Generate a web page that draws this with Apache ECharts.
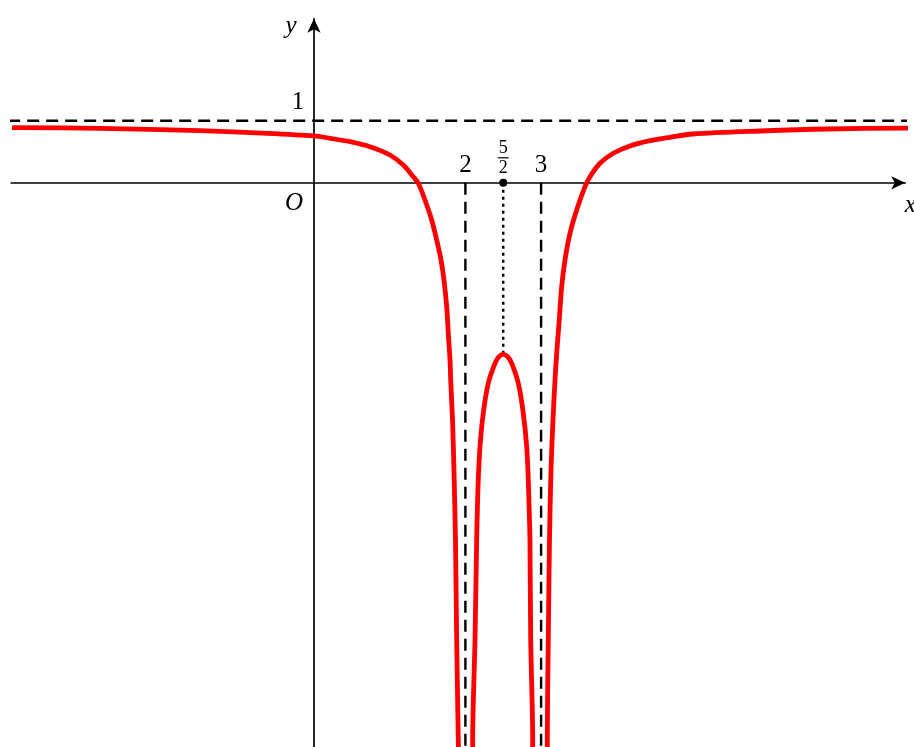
<!DOCTYPE html>
<html>
<head>
<meta charset="utf-8">
<script src="https://cdn.jsdelivr.net/npm/echarts@6/dist/echarts.min.js"></script>
<style>
  html, body { margin: 0; padding: 0; background: #ffffff; }
  #chart { width: 914px; height: 747px; }
</style>
</head>
<body>
<div id="chart"></div>
<script>
// Graph of y = f(x) with asymptotes x = 2, x = 3, y = 1 and a local maximum at x = 5/2.
const leftBranch = [
  [-3.989, 0.889], [-2.827, 0.879], [-1.506, 0.840], [-0.621, 0.798], [0, 0.755],
  [0.211, 0.718], [0.476, 0.663], [0.740, 0.582], [1.004, 0.448], [1.180, 0.287],
  [1.312, 0.098], [1.378, -0.008], [1.466, -0.277], [1.555, -0.600], [1.621, -0.923],
  [1.678, -1.245], [1.717, -1.568], [1.753, -1.998], [1.774, -2.427], [1.797, -2.858],
  [1.806, -3.181], [1.830, -3.826], [1.849, -4.632], [1.869, -5.761], [1.885, -7.374],
  [1.906, -8.987], [1.910, -9.310]
];
const middleBranch = [
  [2.096, -9.310], [2.096, -8.987], [2.127, -7.374], [2.149, -5.761], [2.157, -5.331],
  [2.170, -4.794], [2.193, -4.256], [2.236, -3.718], [2.302, -3.234], [2.391, -2.911],
  [2.444, -2.802], [2.5, -2.769], [2.556, -2.802],
  [2.612, -2.911], [2.699, -3.234], [2.765, -3.718], [2.810, -4.256], [2.831, -4.794],
  [2.844, -5.331], [2.853, -5.761], [2.863, -7.374], [2.889, -8.987], [2.889, -9.310]
];
const rightBranch = [
  [3.082, -9.310], [3.082, -8.987], [3.095, -7.374], [3.111, -5.761], [3.131, -4.632],
  [3.157, -3.826], [3.184, -3.181], [3.206, -2.750], [3.240, -2.213], [3.272, -1.676],
  [3.316, -1.245], [3.382, -0.815], [3.470, -0.439], [3.580, -0.063], [3.646, 0.098],
  [3.778, 0.315], [3.954, 0.476], [4.174, 0.594], [4.439, 0.679], [4.703, 0.734],
  [5.007, 0.787], [5.892, 0.835], [6.777, 0.868], [7.926, 0.884]
];
const horizontalAsymptote = 1;
const verticalAsymptotes = [2, 3];
const peak = [2.5, -2.769];
const xTickLabels = ['2', '3'];
const peakLabel = ['5', '2'];          // numerator, denominator of 5/2
const xRange = [-4, 7.81];
const yRange = [-9.1, 2.645];
const curveEnds = [-4.04, 7.95];
const asymptoteBottom = -9.4;

const serif = '"Liberation Serif", "DejaVu Serif", serif';
const chart = echarts.init(document.getElementById('chart'), null, { renderer: 'canvas' });

const redCurve = (data) => ({
  type: 'line', data, showSymbol: false, smooth: 0.3,
  clip: false, silent: true, z: 5,
  lineStyle: { color: '#ff0000', width: 4.8, cap: 'butt', join: 'round' }
});
const guide = (data, dash, width) => ({
  type: 'line', data, showSymbol: false, clip: false, silent: true, z: 3,
  lineStyle: { color: '#000000', width, type: dash }
});

const axisBase = {
  type: 'value', splitLine: { show: false }, axisTick: { show: false },
  axisLabel: { show: false },
  axisLine: {
    show: true, onZero: true, symbol: ['none', 'arrow'], symbolSize: [10, 14],
    lineStyle: { color: '#000000', width: 1.7 }
  }
};

chart.setOption({
  animation: false,
  backgroundColor: '#ffffff',
  grid: { left: 11.2, right: 8.8, top: 18.8, bottom: 0, containLabel: false },
  xAxis: Object.assign({}, axisBase, { min: xRange[0], max: xRange[1] }),
  yAxis: Object.assign({}, axisBase, { min: yRange[0], max: yRange[1] }),
  series: [
    guide(curveEnds.map(x => [x, horizontalAsymptote]), [12, 7], 2.4),
    ...verticalAsymptotes.map(a => guide([[a, 0], [a, asymptoteBottom]], [12, 7], 2.4)),
    guide([[peak[0], 0], peak], [3, 4], 2.4),
    redCurve(leftBranch),
    redCurve(middleBranch),
    redCurve(rightBranch),
    {
      type: 'scatter', data: [[peak[0], 0]], symbol: 'circle', symbolSize: 8,
      itemStyle: { color: '#000000', opacity: 1 }, silent: true, z: 6,
      label: {
        show: true, position: 'top', distance: 3, opacity: 1,
        formatter: '{n|' + peakLabel[0] + '}\n{bar|}\n{d|' + peakLabel[1] + '}',
        rich: {
          n: { fontFamily: serif, fontSize: 18, color: '#000', lineHeight: 16, align: 'center' },
          bar: { width: 11, height: 1.2, backgroundColor: '#000', lineHeight: 4, align: 'center' },
          d: { fontFamily: serif, fontSize: 18, color: '#000', lineHeight: 16, align: 'center' }
        }
      }
    },
    {
      type: 'scatter', data: verticalAsymptotes.map(a => [a, 0]), symbolSize: 0,
      itemStyle: { opacity: 1 }, silent: true, z: 6,
      label: {
        show: true, position: 'top', distance: 5, opacity: 1,
        fontFamily: serif, fontSize: 25, color: '#000',
        formatter: p => xTickLabels[p.dataIndex]
      }
    }
  ]
});

// Axis names and tick text placed relative to the axes
const px = (x, y) => chart.convertToPixel({ gridIndex: 0 }, [x, y]);
const o = px(0, 0);
const one = px(0, horizontalAsymptote);
const yTop = px(0, yRange[1]);
const xEnd = px(xRange[1], 0);
const txt = (x, y, text, italic) => ({
  type: 'text', x, y, silent: true, z: 10,
  style: {
    text, fill: '#000', font: (italic ? 'italic ' : '') + '25px ' + serif,
    align: 'center', verticalAlign: 'middle'
  }
});
chart.setOption({
  graphic: [
    txt(o[0] - 20, o[1] + 21, 'O', true),
    txt(one[0] - 16, one[1] - 18, '1', false),
    txt(yTop[0] - 23, yTop[1] + 8, 'y', true),
    txt(xEnd[0] + 5, xEnd[1] + 23, 'x', true)
  ]
});
</script>
</body>
</html>
